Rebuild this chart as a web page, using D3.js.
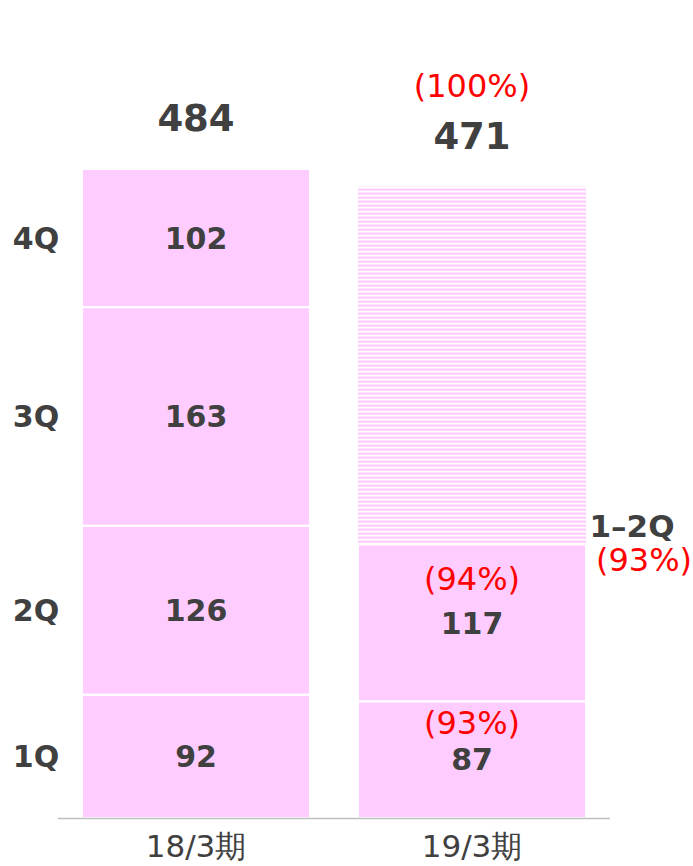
<!DOCTYPE html>
<html>
<head>
<meta charset="utf-8">
<script src="https://cdn.jsdelivr.net/npm/d3@7"></script>
<style>
  body { margin: 0; background: #fff; }
  text { font-family: "DejaVu Sans", Verdana, sans-serif; }
</style>
</head>
<body>
<svg width="693" height="866"></svg>
<script>
// data
var periods = ["18/3期", "19/3期"];
var quarters = ["1Q", "2Q", "3Q", "4Q"];
var prevValues = [92, 126, 163, 102];      // 18/3期 by quarter
var currValues = [87, 117];                // 19/3期 actual 1Q, 2Q
var totals = [484, 471];                   // 18/3期 actual, 19/3期 plan
var currRatios = ["(93%)", "(94%)"];       // yoy per quarter
var planRatio = "(100%)";
var halfLabel = "1–2Q";
var halfRatio = "(93%)";

var svg = d3.select("svg"),
    width = +svg.attr("width"),
    height = +svg.attr("height");

var pink = "#FFCCFF",
    dark = "#404040",
    red = "#FF0000";

// horizontal stripes for the plan part
var defs = svg.append("defs");
var pat = defs.append("pattern")
    .attr("id", "stripes")
    .attr("patternUnits", "userSpaceOnUse")
    .attr("width", 8)
    .attr("height", 4);
pat.append("rect").attr("width", 8).attr("height", 4).attr("fill", "#fff");
pat.append("rect").attr("y", 0.5).attr("width", 8).attr("height", 2.2).attr("fill", pink);

var x = d3.scaleBand()
    .domain(periods)
    .range([58, 610])
    .paddingInner(0.174)
    .paddingOuter(0.087);

var y = d3.scaleLinear()
    .domain([0, totals[0]])
    .range([818, 169]);

// stack the previous year
var prevSegs = [];
var acc = 0;
prevValues.forEach(function(v, i) {
  prevSegs.push({q: quarters[i], y0: acc, y1: acc + v, v: v});
  acc += v;
});
// last segment closes at the reported total (rounding)
prevSegs[prevSegs.length - 1].y1 = totals[0];

var currSegs = [];
acc = 0;
currValues.forEach(function(v, i) {
  currSegs.push({q: quarters[i], y0: acc, y1: acc + v, v: v, r: currRatios[i]});
  acc += v;
});
var currHalf = acc;

// left bar
svg.append("g").selectAll("rect")
  .data(prevSegs)
  .enter().append("rect")
    .attr("x", x(periods[0]))
    .attr("width", x.bandwidth())
    .attr("y", function(d) { return y(d.y1); })
    .attr("height", function(d) { return y(d.y0) - y(d.y1); })
    .attr("fill", pink)
    .attr("stroke", "#fff")
    .attr("stroke-width", 2);

// right bar: plan stripes then actual quarters
svg.append("rect")
    .attr("x", x(periods[1]))
    .attr("width", x.bandwidth())
    .attr("y", y(totals[1]))
    .attr("height", y(currHalf) - y(totals[1]))
    .attr("fill", "url(#stripes)");

svg.append("g").selectAll("rect")
  .data(currSegs)
  .enter().append("rect")
    .attr("x", x(periods[1]))
    .attr("width", x.bandwidth())
    .attr("y", function(d) { return y(d.y1); })
    .attr("height", function(d) { return y(d.y0) - y(d.y1); })
    .attr("fill", pink)
    .attr("stroke", "#fff")
    .attr("stroke-width", 2);

// baseline
svg.append("line")
    .attr("x1", 58).attr("x2", 610)
    .attr("y1", y(0) + 0.5).attr("y2", y(0) + 0.5)
    .attr("stroke", "#BFBFBF")
    .attr("stroke-width", 1.5);

// category labels
svg.append("g").selectAll("text")
  .data(periods)
  .enter().append("text")
    .attr("x", function(d) { return x(d) + x.bandwidth() / 2; })
    .attr("y", 857)
    .attr("text-anchor", "middle")
    .attr("font-size", 31)
    .attr("fill", dark)
    .text(function(d) { return d; });

// quarter labels on the left
svg.append("g").selectAll("text")
  .data(prevSegs)
  .enter().append("text")
    .attr("x", 36)
    .attr("y", function(d) { return y((d.y0 + d.y1) / 2); })
    .attr("dy", "0.36em")
    .attr("text-anchor", "middle")
    .attr("font-size", 30)
    .attr("font-weight", "bold")
    .attr("fill", dark)
    .text(function(d) { return d.q; });

// values inside the left bar
svg.append("g").selectAll("text")
  .data(prevSegs)
  .enter().append("text")
    .attr("x", x(periods[0]) + x.bandwidth() / 2)
    .attr("y", function(d) { return y((d.y0 + d.y1) / 2); })
    .attr("dy", "0.36em")
    .attr("text-anchor", "middle")
    .attr("font-size", 30)
    .attr("font-weight", "bold")
    .attr("fill", dark)
    .text(function(d) { return d.v; });

// values inside the right bar
var cx1 = x(periods[1]) + x.bandwidth() / 2;
var cg = svg.append("g").selectAll("g")
  .data(currSegs)
  .enter().append("g");
cg.append("text")
    .attr("x", cx1)
    .attr("y", function(d) { return y((d.y0 + d.y1) / 2); })
    .attr("dy", "0.36em")
    .attr("text-anchor", "middle")
    .attr("font-size", 30)
    .attr("font-weight", "bold")
    .attr("fill", dark)
    .text(function(d) { return d.v; });
cg.append("text")
    .attr("x", cx1)
    .attr("y", function(d, i) { return y((d.y0 + d.y1) / 2) - (i == 0 ? 37 : 44); })
    .attr("dy", "0.36em")
    .attr("text-anchor", "middle")
    .attr("font-size", 32)
    .attr("fill", red)
    .text(function(d) { return d.r; });

// totals
svg.append("g").selectAll("text")
  .data(totals)
  .enter().append("text")
    .attr("x", function(d, i) { return x(periods[i]) + x.bandwidth() / 2; })
    .attr("y", function(d) { return y(d) - 51; })
    .attr("dy", "0.36em")
    .attr("text-anchor", "middle")
    .attr("font-size", 37)
    .attr("font-weight", "bold")
    .attr("fill", dark)
    .text(function(d) { return d; });

svg.append("text")
    .attr("x", cx1)
    .attr("y", y(totals[1]) - 101)
    .attr("dy", "0.36em")
    .attr("text-anchor", "middle")
    .attr("font-size", 32)
    .attr("fill", red)
    .text(planRatio);

// half year label to the right
svg.append("text")
    .attr("x", 632)
    .attr("y", y(currHalf) - 19)
    .attr("dy", "0.36em")
    .attr("text-anchor", "middle")
    .attr("font-size", 31)
    .attr("font-weight", "bold")
    .attr("fill", dark)
    .text(halfLabel);

svg.append("text")
    .attr("x", 644)
    .attr("y", y(currHalf) + 15)
    .attr("dy", "0.36em")
    .attr("text-anchor", "middle")
    .attr("font-size", 32)
    .attr("fill", red)
    .text(halfRatio);
</script>
</body>
</html>
